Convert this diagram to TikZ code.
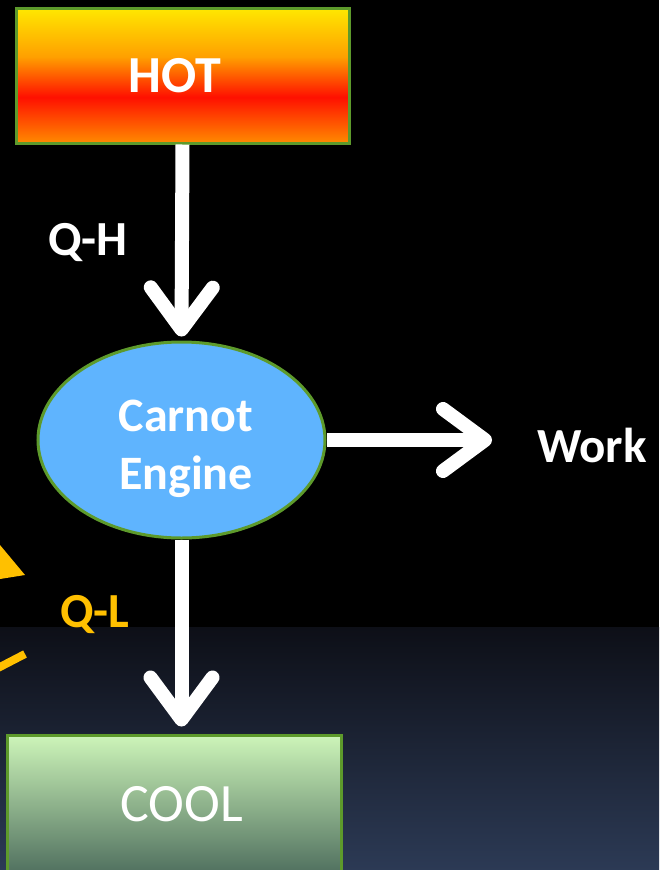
\documentclass[tikz,border=0pt]{standalone}
\usepackage{fontspec}
\setmainfont{Carlito}
\usetikzlibrary{shapes.geometric,arrows.meta}
\definecolor{bordergreen}{HTML}{5D9A2B}
\definecolor{engblue}{HTML}{5FB4FE}
\definecolor{qlyellow}{HTML}{FFC000}
\definecolor{bgtop}{HTML}{0D0F17}
\definecolor{bgbot}{HTML}{2C3A55}
\definecolor{hotY}{HTML}{FFE800}
\definecolor{hotO}{HTML}{FFA000}
\definecolor{hotR}{HTML}{FF1000}
\definecolor{hotB}{HTML}{FF8A00}
\definecolor{coolT}{HTML}{CDF5B9}
\definecolor{coolB}{HTML}{50705F}
\pgfdeclareverticalshading{hotshade}{100bp}{color(0bp)=(hotB); color(25bp)=(hotB); color(42bp)=(hotR); color(57bp)=(hotO); color(75bp)=(hotY); color(100bp)=(hotY)}
\tikzset{
  reservoir/.style={draw=bordergreen, line width=3pt, rectangle, inner sep=0pt, text=white, font=\fontsize{52}{56}\selectfont\bfseries},
  enginebox/.style={draw=bordergreen, line width=3pt, ellipse, fill=engblue, inner sep=0pt, text=white, align=center, font=\fontsize{48}{58}\selectfont\bfseries},
  lbl/.style={text=white, inner sep=0pt, font=\fontsize{49}{56}\selectfont\bfseries},
  bigarrow/.style={draw=white, line width=14pt, -{Straight Barb[round, length=42pt, width=62pt]}},
}
\begin{document}
\begin{tikzpicture}[x=1pt, y=-1pt]
\useasboundingbox (0,0) rectangle (659,870);
\fill[black] (0,0) rectangle (659,870);
\shade[top color=bgtop, bottom color=bgbot] (0,627) rectangle (659,870);
% partial yellow arrow at left edge
\fill[qlyellow] (0,545) -- (25,575) -- (0,579) -- cycle;
\draw[qlyellow, line width=8pt] (-2,668) -- (25,654);
\node[reservoir, shading=hotshade, minimum width=333pt, minimum height=135pt] (hot) at (182.5,75.5) {HOT\hspace*{16pt}};
\node[enginebox, minimum width=287pt, minimum height=196pt] (engine) at (181.5,440) {\rule{0pt}{50pt}\hspace*{9pt}Carnot\\\hspace*{9pt}Engine};
\node[reservoir, top color=coolT, bottom color=coolB, minimum width=334pt, minimum height=138pt, font=\fontsize{54}{56}\selectfont] (cool) at (174,804) {\hspace*{15pt}COOL};
\node[lbl] (qh) at (88,243) {Q-H};
\node[lbl] (work) at (592,445) {Work};
\node[lbl, text=qlyellow] (ql) at (95,615) {Q-L};
\coordinate (worktip) at (492,440);
\draw[bigarrow] (hot.south) -- ([yshift=4pt]engine.north);
\draw[bigarrow] (engine.east) -- (worktip);
\draw[bigarrow] (engine.south) -- ([yshift=7pt]engine.south |- cool.north);
\end{tikzpicture}
\end{document}
